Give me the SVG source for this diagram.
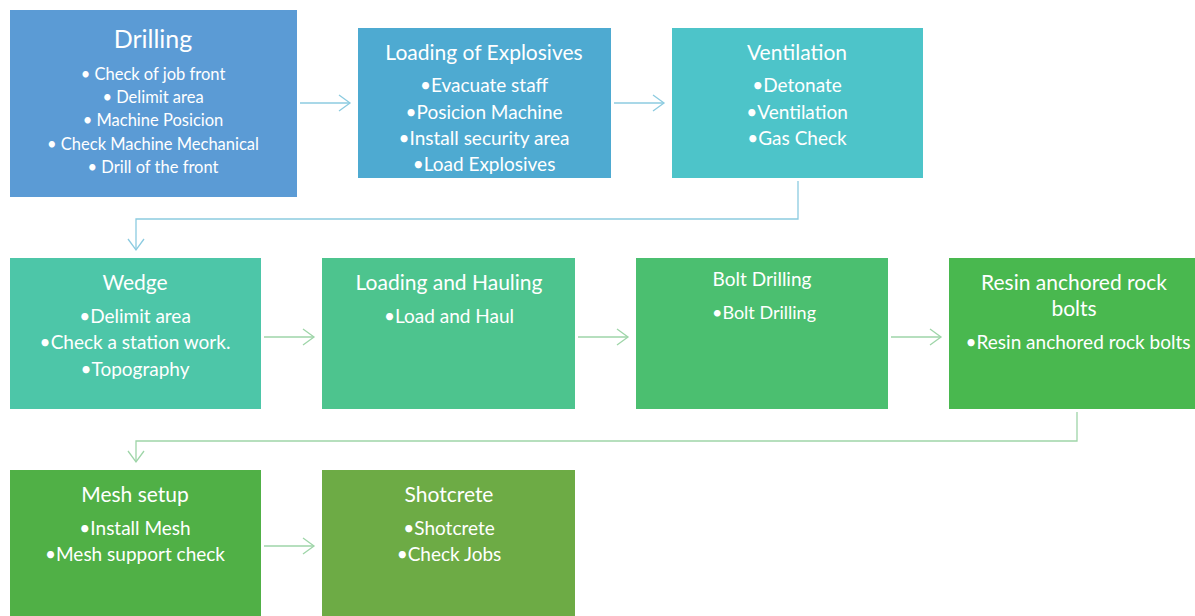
<svg xmlns="http://www.w3.org/2000/svg" width="1195" height="616" viewBox="0 0 1195 616">
<style>
text{font-family:Lato,"Open Sans","Liberation Sans",sans-serif;fill:#ffffff;text-anchor:middle}
.t{font-size:21px}
.b{font-size:19px}
.s{font-size:16.5px}
.cb{fill:none;stroke:#8ccbe0;stroke-width:1.3}
.cg{fill:none;stroke:#9ed5a8;stroke-width:1.3}
</style>
<defs>
<marker id="ab" markerWidth="14" markerHeight="18" refX="12" refY="9" orient="auto" markerUnits="userSpaceOnUse"><path d="M1,1 L12,9 L1,17" fill="none" stroke="#8ccbe0" stroke-width="1.3"/></marker>
<marker id="ag" markerWidth="14" markerHeight="18" refX="12" refY="9" orient="auto" markerUnits="userSpaceOnUse"><path d="M1,1 L12,9 L1,17" fill="none" stroke="#9ed5a8" stroke-width="1.3"/></marker>
</defs>
<rect width="1195" height="616" fill="#ffffff"/>
<g id="connectors">
<path class="cb" d="M300,103 H350" marker-end="url(#ab)"/>
<path class="cb" d="M614,103 H664" marker-end="url(#ab)"/>
<path class="cb" d="M798,181 V219 H136 V250" marker-end="url(#ab)"/>
<path class="cg" d="M264,337 H314" marker-end="url(#ag)"/>
<path class="cg" d="M578,337 H628" marker-end="url(#ag)"/>
<path class="cg" d="M891,337 H941" marker-end="url(#ag)"/>
<path class="cg" d="M1077,412 V441 H136 V462" marker-end="url(#ag)"/>
<path class="cg" d="M264,546 H314" marker-end="url(#ag)"/>
</g>
<g id="drilling">
<rect x="10" y="10" width="287" height="187" fill="#5b9bd5"/>
<text x="153" y="48" style="font-size:25px">Drilling</text>
<text class="s" x="153" y="80">• Check of job front</text>
<text class="s" x="153" y="103">• Delimit area</text>
<text class="s" x="153" y="126">• Machine Posicion</text>
<text class="s" x="153" y="150">• Check Machine Mechanical</text>
<text class="s" x="153" y="173">• Drill of the front</text>
</g>
<g id="loading-explosives">
<rect x="358" y="28" width="253" height="150" fill="#4eaad1"/>
<text class="t" x="484" y="60">Loading of Explosives</text>
<text class="b" x="484" y="92">•Evacuate staff</text>
<text class="b" x="484" y="119">•Posicion Machine</text>
<text class="b" x="484" y="145">•Install security area</text>
<text class="b" x="484" y="171">•Load Explosives</text>
</g>
<g id="ventilation">
<rect x="672" y="28" width="251" height="150" fill="#4dc4c9"/>
<text class="t" x="797" y="60">Ventilation</text>
<text class="b" x="797" y="92">•Detonate</text>
<text class="b" x="797" y="119">•Ventilation</text>
<text class="b" x="797" y="145">•Gas Check</text>
</g>
<g id="wedge">
<rect x="10" y="258" width="251" height="151" fill="#4dc6a8"/>
<text class="t" x="135" y="290">Wedge</text>
<text class="b" x="135" y="323">•Delimit area</text>
<text class="b" x="135" y="349">•Check a station work.</text>
<text class="b" x="135" y="376">•Topography</text>
</g>
<g id="loading-hauling">
<rect x="322" y="258" width="253" height="151" fill="#4dc48e"/>
<text class="t" x="449" y="290">Loading and Hauling</text>
<text class="b" x="449" y="323">•Load and Haul</text>
</g>
<g id="bolt-drilling">
<rect x="636" y="258" width="252" height="151" fill="#4bbf70"/>
<text x="762" y="286" style="font-size:19px">Bolt Drilling</text>
<text x="764" y="319" style="font-size:18px">•Bolt Drilling</text>
</g>
<g id="resin">
<rect x="949" y="258" width="246" height="151" fill="#49b84f"/>
<text class="t" x="1074" y="290">Resin anchored rock</text>
<text class="t" x="1074" y="316">bolts</text>
<text class="b" x="1078" y="349">•Resin anchored rock bolts</text>
</g>
<g id="mesh">
<rect x="10" y="470" width="251" height="146" fill="#50b046"/>
<text class="t" x="135" y="502">Mesh setup</text>
<text class="b" x="135" y="535">•Install Mesh</text>
<text class="b" x="135" y="561">•Mesh support check</text>
</g>
<g id="shotcrete">
<rect x="322" y="470" width="253" height="146" fill="#6dab45"/>
<text class="t" x="449" y="502">Shotcrete</text>
<text class="b" x="449" y="535">•Shotcrete</text>
<text class="b" x="449" y="561">•Check Jobs</text>
</g>
</svg>
